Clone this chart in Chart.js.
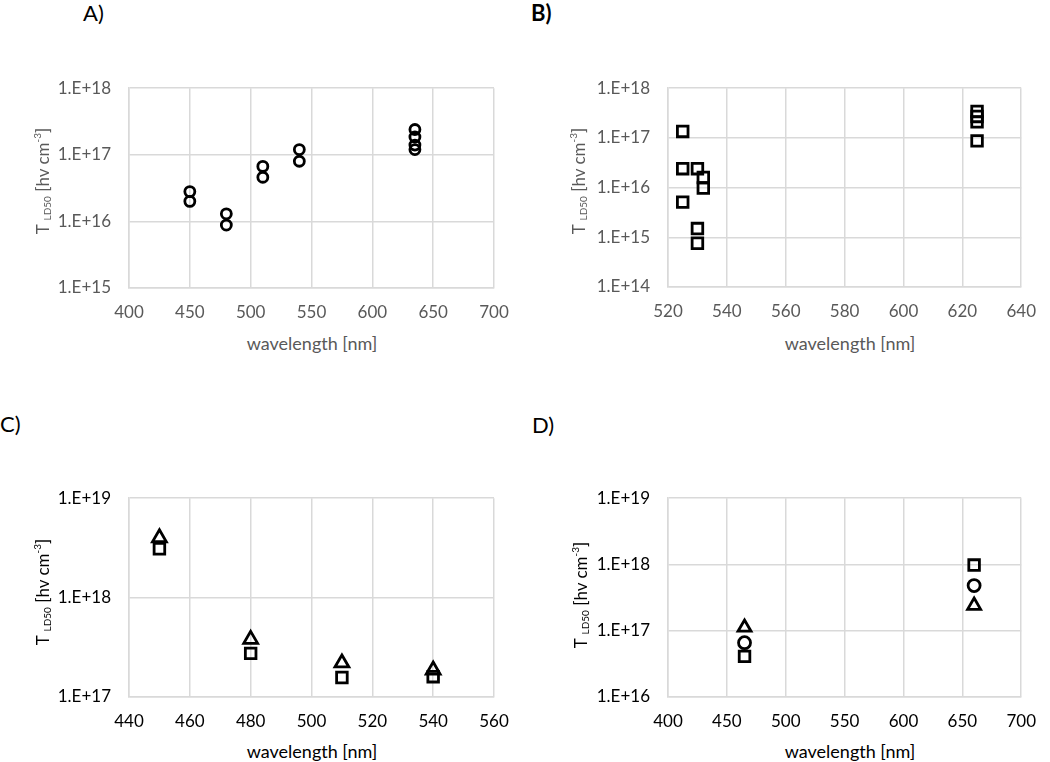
<!DOCTYPE html>
<html>
<head>
<meta charset="utf-8">
<script src="https://cdn.jsdelivr.net/npm/chart.js@4.4.1/dist/chart.umd.min.js"></script>
<style>
  body { margin: 0; background: #fff; }
  #wrap { position: relative; width: 1050px; height: 762px; overflow: hidden; font-family: Lato, sans-serif; }
  canvas { position: absolute; }
  .lbl { position: absolute; font-size: 22px; color: #000; line-height: 1; }
  .xt { position: absolute; font-size: 18px; transform: translate(-50%, -50%); white-space: nowrap; line-height: 1; }
  .yt { position: absolute; font-size: 17px; transform: translate(-50%, -50%) rotate(-90deg); white-space: nowrap; line-height: 1; }
  .yt sub { font-size: 10px; vertical-align: -2px; }
  .yt sup { font-size: 10px; vertical-align: 8px; }
</style>
</head>
<body>
<div id="wrap">
  <div class="lbl" style="left:83px;top:2px">A)</div>
  <div class="lbl" style="left:531px;top:2px;font-weight:bold">B)</div>
  <div class="lbl" style="left:0px;top:413px">C)</div>
  <div class="lbl" style="left:532px;top:414px">D)</div>

  <canvas id="chA" width="525" height="270" style="left:0px;top:60px"></canvas>
  <canvas id="chB" width="525" height="270" style="left:525px;top:60px"></canvas>
  <canvas id="chC" width="525" height="270" style="left:0px;top:470px"></canvas>
  <canvas id="chD" width="525" height="270" style="left:525px;top:470px"></canvas>

  <div class="yt" style="left:42px;top:181px;color:#595959">T <sub>LD50</sub> [hv cm<sup>-3</sup>]</div>
  <div class="yt" style="left:578px;top:181px;color:#595959">T <sub>LD50</sub> [hv cm<sup>-3</sup>]</div>
  <div class="yt" style="left:42px;top:592px;color:#000">T <sub>LD50</sub> [hv cm<sup>-3</sup>]</div>
  <div class="yt" style="left:580px;top:595px;color:#000">T <sub>LD50</sub> [hv cm<sup>-3</sup>]</div>

  <div class="xt" style="left:312px;top:343px;color:#595959">wavelength [nm]</div>
  <div class="xt" style="left:850px;top:343px;color:#595959">wavelength [nm]</div>
  <div class="xt" style="left:312px;top:751px;color:#000">wavelength [nm]</div>
  <div class="xt" style="left:850px;top:751px;color:#000">wavelength [nm]</div>
</div>
<script>
// A) circles
const wlA = [450, 450, 480, 480, 510, 510, 540, 540, 635, 635, 635, 635];
const tA = [2.8e16, 2.0e16, 1.3e16, 8.8e15, 6.7e16, 4.6e16, 1.2e17, 8.0e16, 2.4e17, 1.85e17, 1.4e17, 1.2e17];
const xTicksA = [400, 450, 500, 550, 600, 650, 700];
const yTicksA = [1e15, 1e16, 1e17, 1e18];

// B) squares
const wlB = [525, 525, 525, 530, 530, 530, 532, 532, 625, 625, 625, 625];
const tB = [1.35e17, 2.4e16, 5.1e15, 2.4e16, 1.5e15, 7.6e14, 1.6e16, 9.8e15, 3.4e17, 2.7e17, 2.1e17, 8.7e16];
const xTicksB = [520, 540, 560, 580, 600, 620, 640];
const yTicksB = [1e14, 1e15, 1e16, 1e17, 1e18];

// C) triangles + squares
const wlC = [450, 480, 510, 540];
const tCtri = [4.0e18, 3.8e17, 2.2e17, 1.87e17];
const tCsq = [3.1e18, 2.75e17, 1.57e17, 1.6e17];
const xTicksC = [440, 460, 480, 500, 520, 540, 560];
const yTicksC = [1e17, 1e18, 1e19];

// D) squares, circles, triangles
const wlD = [465, 660];
const tDsq = [4.1e16, 9.8e17];
const tDcirc = [6.6e16, 4.8e17];
const tDtri = [1.12e17, 2.4e17];
const xTicksD = [400, 450, 500, 550, 600, 650, 700];
const yTicksD = [1e16, 1e17, 1e18, 1e19];

const gridCol = '#d9d9d9';

function pts(xs, ys) {
  return xs.map((x, i) => ({ x: x, y: ys[i] }));
}

function ds(xs, ys, shape, r) {
  return {
    data: pts(xs, ys),
    pointStyle: shape,
    pointRadius: r,
    pointBorderWidth: 2.8,
    pointBorderColor: '#000',
    pointBackgroundColor: 'rgba(0,0,0,0)',
    showLine: false
  };
}

function makePanel(id, datasets, xTicks, yTicks, box, txtCol) {
  new Chart(document.getElementById(id), {
    type: 'scatter',
    data: { datasets: datasets },
    options: {
      responsive: false,
      animation: false,
      events: [],
      layout: { padding: { top: box.top, right: box.right, left: 0, bottom: 0 } },
      plugins: { legend: { display: false }, tooltip: { enabled: false } },
      scales: {
        x: {
          type: 'linear',
          min: xTicks[0],
          max: xTicks[xTicks.length - 1],
          afterBuildTicks: (s) => { s.ticks = xTicks.map(v => ({ value: v })); },
          afterFit: (s) => { s.height = box.xh; },
          grid: { color: gridCol, lineWidth: 1.5, drawTicks: false },
          border: { color: gridCol, width: 1.5 },
          ticks: { color: txtCol, font: { family: 'Lato', size: 17 }, padding: 14, maxRotation: 0 }
        },
        y: {
          type: 'logarithmic',
          min: yTicks[0],
          max: yTicks[yTicks.length - 1],
          afterBuildTicks: (s) => { s.ticks = yTicks.map(v => ({ value: v })); },
          afterFit: (s) => { s.width = box.yw; },
          grid: { color: gridCol, lineWidth: 1.5, drawTicks: false },
          border: { color: gridCol, width: 1.5 },
          ticks: {
            color: txtCol,
            font: { family: 'Lato', size: 17 },
            padding: 18,
            callback: (v) => '1.E+' + Math.round(Math.log10(v))
          }
        }
      }
    }
  });
}

makePanel('chA', [ds(wlA, tA, 'circle', 5)], xTicksA, yTicksA,
  { top: 17, right: 31, yw: 129, xh: 42 }, '#595959');

makePanel('chB', [ds(wlB, tB, 'rect', 7.5)], xTicksB, yTicksB,
  { top: 13, right: 17, yw: 143, xh: 43 }, '#595959');

makePanel('chC', [ds(wlC, tCtri, 'triangle', 8), ds(wlC, tCsq, 'rect', 7.5)], xTicksC, yTicksC,
  { top: 16, right: 31, yw: 129, xh: 43 }, '#000');

makePanel('chD', [ds(wlD, tDsq, 'rect', 7.5), ds(wlD, tDcirc, 'circle', 6), ds(wlD, tDtri, 'triangle', 7.5)], xTicksD, yTicksD,
  { top: 22, right: 17, yw: 143, xh: 43 }, '#000');
</script>
</body>
</html>
